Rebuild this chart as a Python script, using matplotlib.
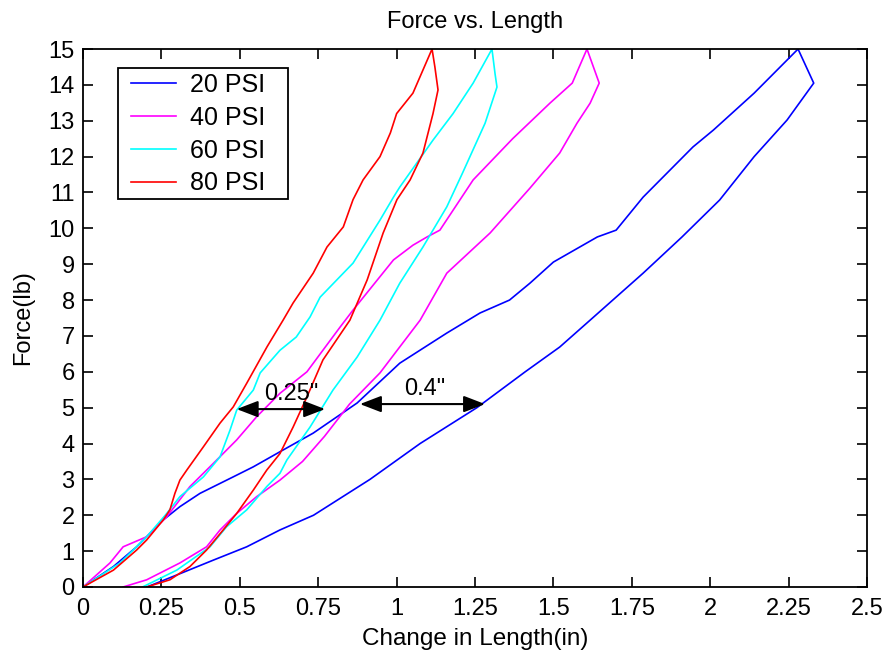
import matplotlib
matplotlib.use("Agg")
import matplotlib.pyplot as plt
from matplotlib.patches import Rectangle

plt.rcParams['font.family'] = ['Liberation Sans', 'DejaVu Sans']

labels = ["20 PSI", "40 PSI", "60 PSI", "80 PSI"]
colors = ["#0000ff", "#ff00ff", "#00ffff", "#ff0000"]

# Each loop: loading branch up to the peak, then unloading branch back to zero
x20 = [0.204, 0.309, 0.416, 0.522, 0.628, 0.735, 0.915, 1.075, 1.256, 1.41, 1.52, 1.617, 1.786, 1.91, 2.03, 2.14,
       2.245, 2.33, 2.28,
       2.14, 2.01, 1.945, 1.786, 1.70, 1.64, 1.50, 1.425, 1.36, 1.266, 1.16, 1.01, 0.874, 0.734, 0.628, 0.543,
       0.479, 0.373, 0.309, 0.256, 0.171, 0.097, 0.0]
y20 = [0.0, 0.37, 0.75, 1.12, 1.59, 2.0, 3.0, 4.0, 5.0, 6.0, 6.69, 7.44, 8.75, 9.76, 10.79, 12.0,
       13.02, 14.05, 15.0,
       13.77, 12.74, 12.27, 10.87, 9.95, 9.76, 9.06, 8.47, 8.0, 7.64, 7.08, 6.24, 5.13, 4.29, 3.77, 3.35,
       3.07, 2.61, 2.24, 1.87, 1.12, 0.57, 0.0]

x40 = [0.128, 0.203, 0.309, 0.394, 0.437, 0.49, 0.554, 0.628, 0.70, 0.77, 0.85, 0.947, 1.075, 1.16, 1.298, 1.425,
       1.52, 1.575, 1.617, 1.646, 1.607,
       1.56, 1.49, 1.37, 1.244, 1.138, 1.097, 1.052, 0.99, 0.861, 0.82, 0.714, 0.628, 0.554, 0.49, 0.416, 0.341,
       0.267, 0.203, 0.128, 0.086, 0.0]
y40 = [0.0, 0.2, 0.67, 1.12, 1.59, 2.05, 2.52, 2.98, 3.5, 4.2, 5.1, 5.97, 7.44, 8.75, 9.87, 11.12,
       12.1, 12.93, 13.49, 14.05, 15.0,
       14.05, 13.5, 12.5, 11.35, 9.95, 9.76, 9.53, 9.12, 7.72, 7.25, 6.0, 5.4, 4.75, 4.10, 3.45, 2.80,
       1.96, 1.40, 1.12, 0.67, 0.0]

x60 = [0.19, 0.299, 0.405, 0.458, 0.522, 0.586, 0.628, 0.65, 0.724, 0.797, 0.874, 0.947, 1.01, 1.084, 1.16, 1.21,
       1.282, 1.32, 1.314, 1.304,
       1.244, 1.18, 1.116, 1.01, 0.99, 0.947, 0.861, 0.756, 0.724, 0.68, 0.628, 0.565, 0.543, 0.49, 0.469, 0.437,
       0.384, 0.309, 0.267, 0.203, 0.118, 0.0]
y60 = [0.0, 0.47, 1.12, 1.68, 2.15, 2.80, 3.17, 3.54, 4.46, 5.49, 6.41, 7.44, 8.47, 9.48, 10.6, 11.54,
       12.93, 13.94, 14.3, 15.0,
       14.05, 13.2, 12.46, 11.15, 10.87, 10.23, 9.03, 8.08, 7.53, 6.97, 6.6, 5.97, 5.49, 4.93, 4.38, 3.63,
       3.07, 2.52, 2.05, 1.40, 0.67, 0.0]

x80 = [0.203, 0.277, 0.341, 0.394, 0.447, 0.49, 0.543, 0.586, 0.628, 0.67, 0.714, 0.765, 0.851, 0.906, 0.957,
       1.001, 1.043, 1.084, 1.116, 1.132, 1.122, 1.113,
       1.052, 1.0, 0.98, 0.947, 0.893, 0.861, 0.83, 0.778, 0.734, 0.67, 0.638, 0.587, 0.522, 0.479, 0.437, 0.384,
       0.331, 0.309, 0.293, 0.277, 0.256, 0.203, 0.171, 0.097, 0.0]
y80 = [0.0, 0.2, 0.57, 1.03, 1.59, 2.05, 2.70, 3.26, 3.72, 4.46, 5.30, 6.33, 7.44, 8.56, 9.87,
       10.8, 11.35, 12.1, 13.2, 13.86, 14.5, 15.0,
       13.77, 13.2, 12.66, 12.0, 11.35, 10.8, 10.04, 9.48, 8.75, 7.92, 7.44, 6.7, 5.68, 5.02, 4.57, 3.91,
       3.26, 2.98, 2.61, 2.15, 1.87, 1.31, 1.03, 0.47, 0.0]

x_ticks = [0, 0.25, 0.5, 0.75, 1, 1.25, 1.5, 1.75, 2, 2.25, 2.5]
x_ticklabels = ["0", "0.25", "0.5", "0.75", "1", "1.25", "1.5", "1.75", "2", "2.25", "2.5"]
y_ticks = list(range(0, 16))

# Hysteresis width markers: (x_start, x_end, y, label, label_x, label_y)
gap_small = (0.49, 0.772, 4.96, '0.25"', 0.665, 5.39)
gap_large = (0.883, 1.282, 5.10, '0.4"', 1.09, 5.52)

FS = 17

fig = plt.figure(figsize=(8.85, 6.59), dpi=100)
ax = fig.add_axes([0.0938, 0.1093, 0.8859, 0.8163])

for xs, ys, c, lab in zip([x20, x40, x60, x80], [y20, y40, y60, y80], colors, labels):
    ax.plot(xs, ys, color=c, lw=1.2, label=lab)

for x0, x1, yv, txt, tx, ty in [gap_small, gap_large]:
    ax.annotate("", xy=(x0, yv), xytext=(x1, yv),
                arrowprops=dict(arrowstyle="<|-|>,head_length=0.65,head_width=0.25",
                                color="black", lw=1.5, mutation_scale=20,
                                shrinkA=0, shrinkB=0))
    ax.text(tx, ty, txt, ha="center", va="center", fontsize=FS)

ax.set_xlim(0, 2.5)
ax.set_ylim(0, 15)
ax.set_xticks(x_ticks)
ax.set_xticklabels(x_ticklabels)
ax.set_yticks(y_ticks)
ax.tick_params(direction="in", top=True, right=True, length=7, width=1.2,
               labelsize=FS)
ax.tick_params(axis="x", pad=8)
ax.tick_params(axis="y", pad=6)
for s in ax.spines.values():
    s.set_linewidth(1.3)

ax.set_title("Force vs. Length", fontsize=FS, pad=15)
ax.set_xlabel("Change in Length(in)", fontsize=17.5, labelpad=6)
ax.set_ylabel("Force(lb)", fontsize=FS, labelpad=10)

# Legend entries without their own frame, boxed by a separate rectangle
leg = ax.legend(loc="upper left", bbox_to_anchor=(0.0612, 0.955), borderaxespad=0,
                fontsize=18, frameon=False, handlelength=1.8, handletextpad=0.56,
                borderpad=0, labelspacing=0.35)
ax.add_patch(Rectangle((0.0446, 0.7212), 0.2168, 0.2435, transform=ax.transAxes,
                       facecolor="white", edgecolor="black", lw=1.3, zorder=4))
leg.set_zorder(5)

fig.savefig("out.png", dpi=100)
